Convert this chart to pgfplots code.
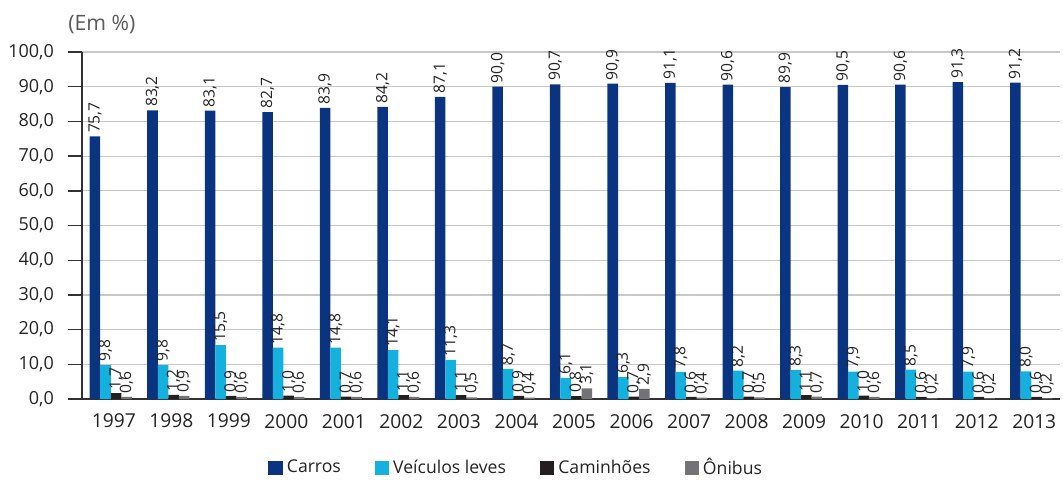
\documentclass[border=0pt]{standalone}
\usepackage{pgfplots}
\pgfplotsset{compat=1.18}
\usepackage{fontspec}
\setmainfont{Open Sans}
\definecolor{carros}{RGB}{10,52,128}
\definecolor{leves}{RGB}{20,176,222}
\definecolor{caminhoes}{RGB}{35,31,32}
\definecolor{onibus}{RGB}{115,114,118}
\definecolor{gridc}{RGB}{200,200,200}
\definecolor{axisc}{RGB}{50,50,50}
\definecolor{textc}{RGB}{35,35,35}
\begin{document}
\begin{tikzpicture}
\path[use as bounding box] (-41pt,-40pt) rectangle (490.5pt,199.5pt);
\node[anchor=west,text=textc!75,font=\fontsize{10.6}{12}\selectfont,inner sep=0pt] at (-7pt,187.5pt) {(Em \%)};
\begin{axis}[
  at={(0,0)}, anchor=south west,
  scale only axis, width=489pt, height=173.5pt,
  xmin=-0.5, xmax=16.5, ymin=0, ymax=100,
  axis x line=bottom, axis y line=left,
  axis line style={-, draw=axisc, line width=0.7pt},
  clip=false,
  ybar=0pt, bar width=0.183,
  xtick={0,...,16},
  xticklabels={1997,1998,1999,2000,2001,2002,2003,2004,2005,2006,2007,2008,2009,2010,2011,2012,2013},
  major x tick style={draw=none},
  extra x ticks={-0.5,0.5,...,16.5},
  extra x tick labels={},
  extra x tick style={major tick length=7pt, tick align=outside, grid=none, tick style={draw=axisc, line width=0.7pt}},
  ytick={0,10,...,100},
  ymajorgrids, grid style={gridc, line width=0.6pt},
  major tick length=7pt, tick align=outside,
  ytick style={draw=axisc, line width=0.7pt},
  /pgf/number format/assume math mode=true,
  yticklabel style={/pgf/number format/.cd, fixed, fixed zerofill, precision=1, use comma, /tikz/.cd, xshift=-3.5pt, font=\fontsize{9}{10}\selectfont},
  xticklabel style={yshift=3pt, xshift=1.5pt, font=\fontsize{9.6}{10}\selectfont},
  ticklabel style={text=textc},
  nodes near coords={\pgfmathprintnumber[fixed,fixed zerofill,precision=1,use comma,assume math mode=true]{\pgfplotspointmeta}},
  every node near coord/.append style={rotate=90, anchor=west, font=\fontsize{7.8}{9}\selectfont, text=textc, inner sep=1.5pt},
  legend columns=4,
  legend style={at={(0.445,-0.199)}, anchor=center, draw=none, fill=none,
    font=\fontsize{8.8}{10}\selectfont, text=textc,
    /tikz/every even column/.append style={column sep=15pt}},
  legend image code/.code={\fill[#1] (0pt,-3.6pt) rectangle (7.2pt,3.6pt);},
]
\addplot[fill=carros, draw=none] coordinates {
(0,75.7) (1,83.2) (2,83.1) (3,82.7) (4,83.9) (5,84.2) (6,87.1) (7,90.0) (8,90.7)
(9,90.9) (10,91.1) (11,90.6) (12,89.9) (13,90.5) (14,90.6) (15,91.3) (16,91.2)};
\addplot[fill=leves, draw=none] coordinates {
(0,9.8) (1,9.8) (2,15.5) (3,14.8) (4,14.8) (5,14.1) (6,11.3) (7,8.7) (8,6.1)
(9,6.3) (10,7.8) (11,8.2) (12,8.3) (13,7.9) (14,8.5) (15,7.9) (16,8.0)};
\addplot[fill=caminhoes, draw=none] coordinates {
(0,1.7) (1,1.2) (2,0.9) (3,1.0) (4,0.7) (5,1.1) (6,1.1) (7,0.9) (8,0.8)
(9,0.7) (10,0.6) (11,0.7) (12,1.1) (13,1.0) (14,0.6) (15,0.6) (16,0.6)};
\addplot[fill=onibus, draw=none] coordinates {
(0,0.6) (1,0.9) (2,0.6) (3,0.6) (4,0.6) (5,0.6) (6,0.5) (7,0.4) (8,3.1)
(9,2.9) (10,0.4) (11,0.5) (12,0.7) (13,0.6) (14,0.2) (15,0.2) (16,0.2)};
\legend{Carros,Veículos leves,Caminhões,Ônibus}
\end{axis}
\end{tikzpicture}
\end{document}
